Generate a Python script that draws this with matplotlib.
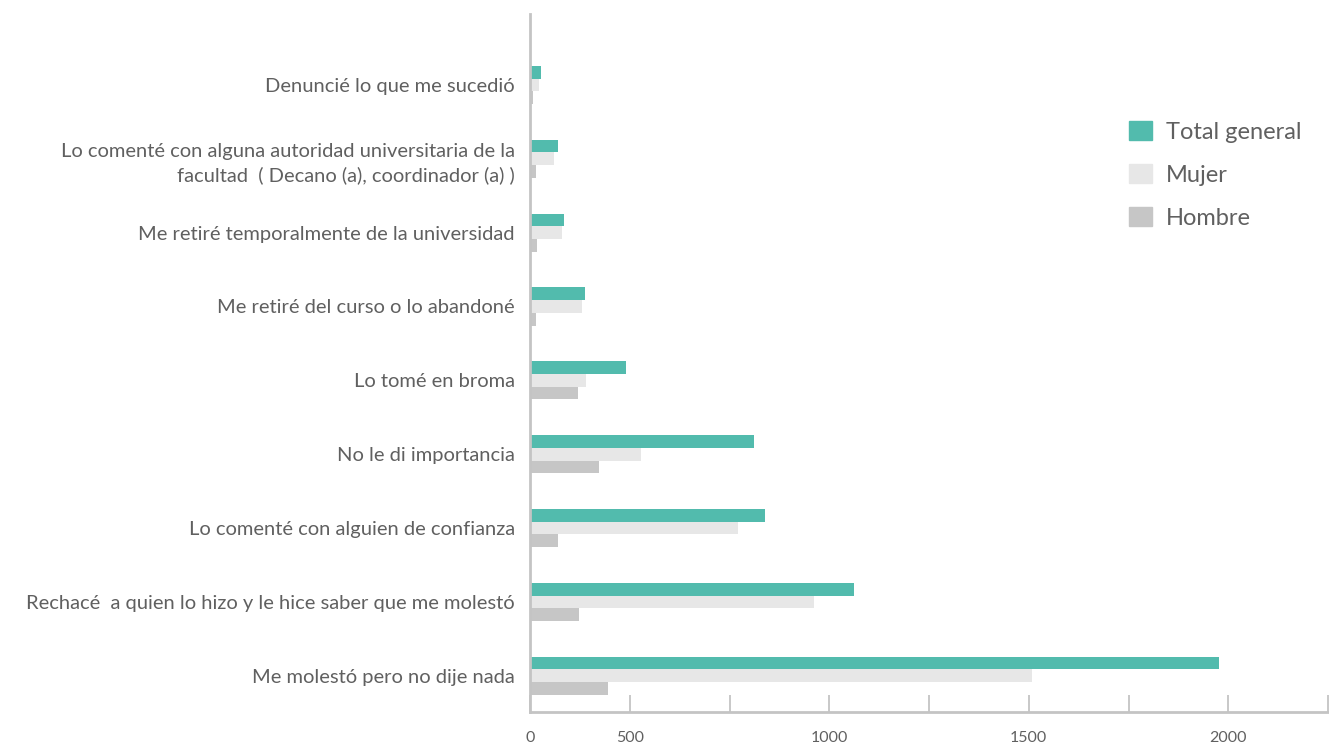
import matplotlib.pyplot as plt
from matplotlib.patches import Patch
import numpy as np

plt.rcParams["font.family"] = ["Lato", "DejaVu Sans"]

categories = [
    "Denunci\u00e9 lo que me sucedi\u00f3",
    "Lo coment\u00e9 con alguna autoridad universitaria de la\nfacultad  ( Decano (a), coordinador (a) )",
    "Me retir\u00e9 temporalmente de la universidad",
    "Me retir\u00e9 del curso o lo abandon\u00e9",
    "Lo tom\u00e9 en broma",
    "No le di importancia",
    "Lo coment\u00e9 con alguien de confianza",
    "Rechac\u00e9  a quien lo hizo y le hice saber que me molest\u00f3",
    "Me molest\u00f3 pero no dije nada",
]
total = [27, 70, 85, 137, 240, 562, 590, 812, 1728]
mujer = [22, 60, 80, 130, 140, 277, 522, 712, 1258]
hombre = [7, 15, 17, 15, 120, 172, 70, 122, 195]

series = ["Total general", "Mujer", "Hombre"]
colors = ["#52bbad", "#e7e7e7", "#c6c6c6"]

tick_vals = np.arange(0, 2001, 250)
tick_text = ["0", "500", "", "1000", "", "1500", "", "2000", ""]

text_col = "#606060"
axis_col = "#c4c4c4"

fig = plt.figure(figsize=(13.29, 7.5), dpi=100)
ax = fig.add_axes([530 / 1329, 38 / 750, 798 / 1329, 698 / 750])

y = np.arange(len(categories))
h = 0.172
for k, (vals, c) in enumerate(zip([total, mujer, hombre], colors)):
    ax.barh(y + (k - 1) * h, vals, height=h, color=c, label=series[k])

ax.set_ylim(len(categories) - 1 + 0.49, -0.96)
ax.set_xlim(0, 2000)

ax.set_yticks(y)
ax.set_yticklabels(categories, fontsize=14.5, color=text_col, linespacing=1.45)
ax.tick_params(axis="y", length=0, pad=11)

ax.set_xticks(tick_vals)
ax.set_xticklabels(tick_text, fontsize=11.5, color=text_col)
ax.tick_params(axis="x", direction="in", length=12, width=1.3, color=axis_col, pad=14)

for s in ["top", "right"]:
    ax.spines[s].set_visible(False)
for s in ["left", "bottom"]:
    ax.spines[s].set_color(axis_col)
    ax.spines[s].set_linewidth(2)

handles = [Patch(color=c) for c in colors]
fig.legend(handles, series, loc="upper left", bbox_to_anchor=(1108 / 1329, 1 - 100 / 750),
           frameon=False, handlelength=0.95, handleheight=0.85,
           labelspacing=0.9, handletextpad=0.6, labelcolor=text_col,
           prop={"size": 17})

fig.savefig("out.png", dpi=100)
